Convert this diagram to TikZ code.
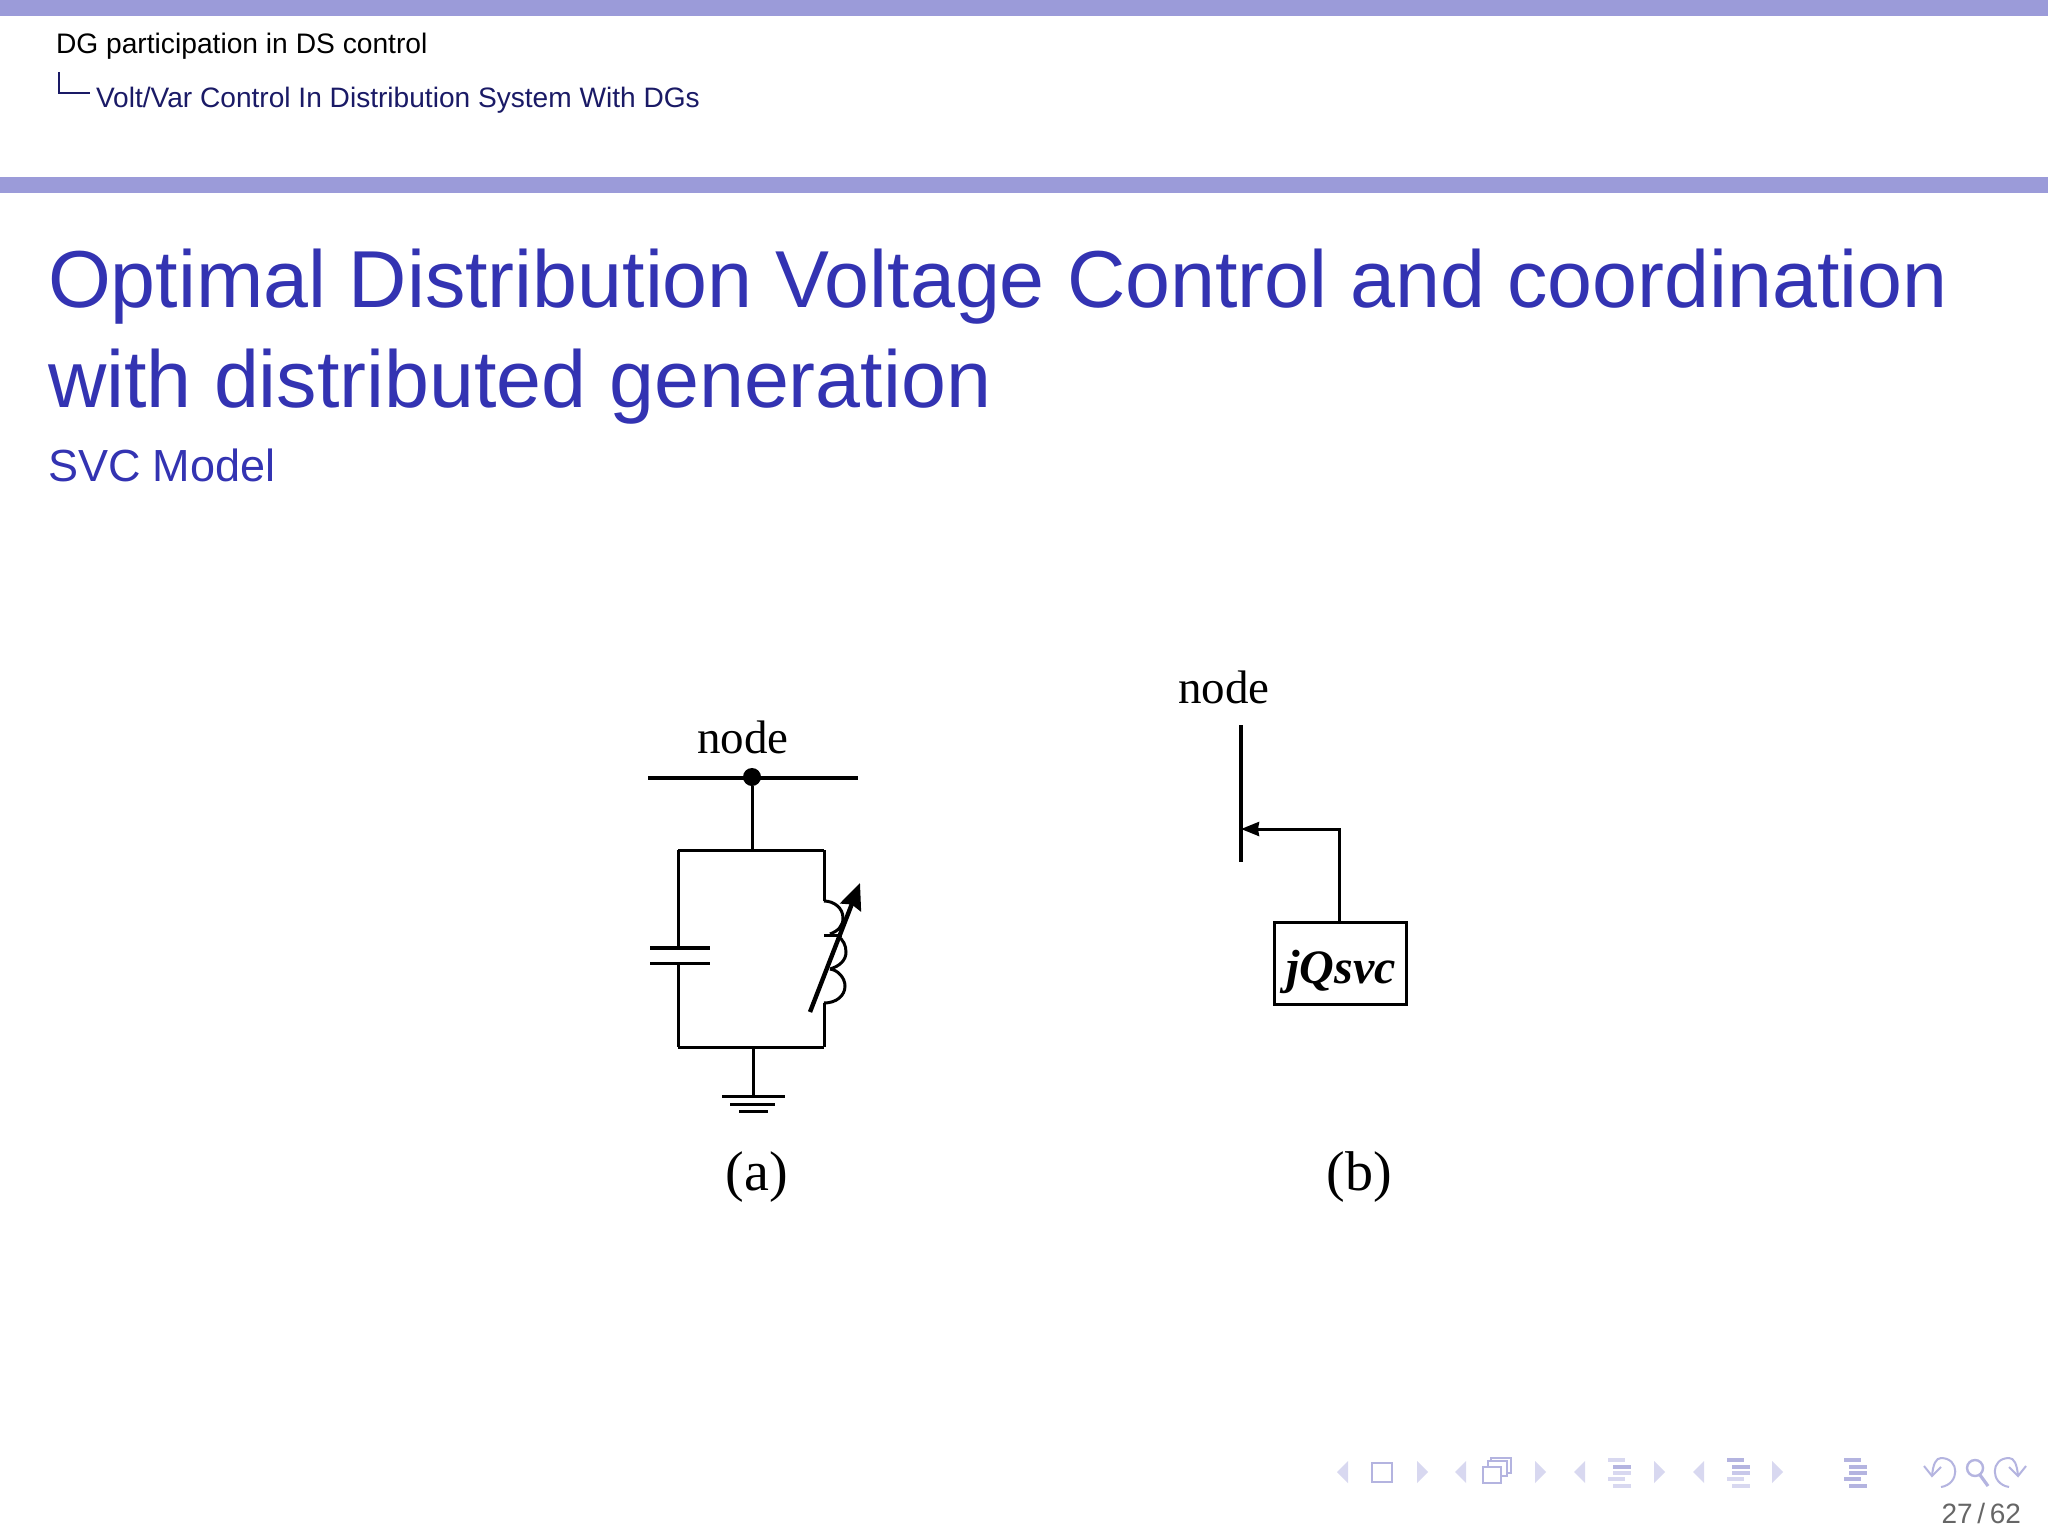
\documentclass[tikz,border=0pt]{standalone}
\usepackage{fontspec}
\setmainfont{Liberation Sans}
\newfontfamily\figserif{Liberation Serif}
\usetikzlibrary{arrows.meta}
\definecolor{barcol}{HTML}{9B9BD9}
\definecolor{titlecol}{HTML}{3333B2}
\definecolor{subcol}{HTML}{1A1A66}
\definecolor{navdark}{HTML}{B4B4E0}
\definecolor{navmid}{HTML}{C8C8EA}
\definecolor{navlight}{HTML}{D8D8F0}
\definecolor{pagecol}{HTML}{666666}
\newcommand{\navL}[1]{\fill[navlight] (#1-6,1472) -- (#1+5,1461) -- (#1+5,1483) -- cycle;}
\newcommand{\navR}[1]{\fill[navlight] (#1+6,1472) -- (#1-5,1461) -- (#1-5,1483) -- cycle;}
\newcommand{\navLines}[6]{%
 \fill[#2] (#1-8,1458) rectangle (#1+9,1462);
 \fill[#3] (#1-3,1465) rectangle (#1+15,1469);
 \fill[#4] (#1-3,1471) rectangle (#1+15,1475);
 \fill[#5] (#1-8,1477) rectangle (#1+9,1481);
 \fill[#6] (#1-3,1484) rectangle (#1+15,1488);}
\tikzset{
 every node/.style={inner sep=0pt,outer sep=0pt},
 wire/.style={line width=1.5pt,black},
 thick wire/.style={line width=1.8pt,black},
 fig text/.style={anchor=base,font=\figserif\fontsize{23.5pt}{26pt}\selectfont},
 cap text/.style={anchor=base,font=\figserif\fontsize{28pt}{30pt}\selectfont},
 pxgrid/.style={x=0.5pt,y=-0.5pt},
 navstroke/.style={navdark,line width=1pt},
}
\begin{document}
\begin{tikzpicture}[pxgrid]
\useasboundingbox (0,0) rectangle (2048,1536);
\fill[white] (0,0) rectangle (2048,1536);
% bars
\fill[barcol] (0,0) rectangle (2048,16);
\fill[barcol] (0,177) rectangle (2048,193);
% headline
\node[anchor=base west,font=\fontsize{14.1pt}{16pt}\selectfont] (sec) at (56,54) {DG participation in DS control};
\node[anchor=base west,text=subcol,font=\fontsize{14.05pt}{16pt}\selectfont] (subsec) at (96,107) {Volt/Var Control In Distribution System With DGs};
\draw[subcol,line width=0.8pt] (59,72) |- (90,93);
% title
\node[anchor=base west,text=titlecol,font=\fontsize{40.4pt}{50pt}\selectfont] (t1) at (48,307) {Optimal Distribution Voltage Control and coordination};
\node[anchor=base west,text=titlecol,font=\fontsize{40.4pt}{50pt}\selectfont] (t2) at (48,407) {with distributed generation};
\node[anchor=base west,text=titlecol,font=\fontsize{22.5pt}{28pt}\selectfont] (t3) at (48,481) {SVC Model};
% figure (a)
\node[fig text] (na) at (743,753) {node};
\coordinate (busL) at (648,778);
\coordinate (busR) at (858,778);
\draw[thick wire] (busL) -- (busR);
\node[circle,fill=black,minimum size=9pt] (dot) at (752,777) {};
\coordinate (top) at (752,850);
\coordinate (bot) at (753,1047);
\draw[wire] (dot) -- (top);
\draw[wire,line cap=square] (678,850) -- (824,850);
\draw[wire,line cap=square] (678,1047) -- (824,1047);
\draw[wire] (678,850) -- (678,948);
\draw[wire] (678,963) -- (678,1047);
\draw[thick wire] (650,948) -- (710,948);
\draw[wire] (650,963) -- (710,963);
\draw[wire] (824,850) -- (824,901);
\draw[wire] (824,901) .. controls (834,901) and (843,908) .. (843,918) .. controls (843,926) and (838,931) .. (830,934);
\draw[wire] (824,935) -- (842,935);
\draw[wire] (838,936) .. controls (843,940) and (846,945) .. (846,952) .. controls (846,960) and (840,966) .. (830,969);
\draw[wire] (830,969) .. controls (838,970) and (845,978) .. (845,986) .. controls (845,996) and (836,1003) .. (824,1003);
\draw[wire] (824,1003) -- (824,1047);
\draw[line width=2.2pt,black,-{Stealth[length=13pt,width=11pt,inset=1.5pt]}] (810,1012) -- (860,883);
% ground
\coordinate (g1) at (753,1096);
\draw[wire] (bot) -- (g1);
\draw[wire] (722,1096) -- (785,1096);
\draw[wire] (730,1104) -- (775,1104);
\draw[wire] (739,1111) -- (768,1111);
\node[cap text] (capa) at (757,1190) {(a)};
% figure (b)
\node[fig text] (nb) at (1224,703) {node};
\draw[line width=2pt,black] (1241,725) -- (1241,862);
\coordinate (tap) at (1241,829);
\node[draw=black,line width=1.5pt,minimum width=66pt,minimum height=41pt] (box) at (1340,963) {};
\node[anchor=base,font=\figserif\bfseries\itshape\fontsize{24pt}{27pt}\selectfont] (boxt) at (1341,983) {jQsvc};
\coordinate (boxtap) at (1339,922);
\draw[wire,-{Stealth[length=9pt,width=7pt,inset=0.5pt]}] (boxtap) |- (tap);
\node[cap text] (capb) at (1359,1190) {(b)};
% nav symbols
\navL{1343} \navR{1422}
\draw[navdark,line width=1.3pt] (1372,1463) rectangle (1392,1482);
\navL{1461} \navR{1540}
\draw[navdark,line width=0.8pt,fill=white] (1491,1458) rectangle (1511,1473);
\draw[navdark,line width=0.8pt,fill=white] (1488,1461) rectangle (1507,1476);
\draw[navdark,line width=1.3pt,fill=white] (1483,1467) rectangle (1501,1483);
\navL{1580} \navR{1659}
\navLines{1616}{navlight}{navdark}{navlight}{navlight}{navlight}
\navL{1699} \navR{1777}
\navLines{1735}{navdark}{navdark}{navmid}{navlight}{navlight}
\navLines{1852}{navdark}{navdark}{navdark}{navdark}{navdark}
\draw[navstroke] (1941,1487) .. controls (1960,1484) and (1960,1458) .. (1941,1458) .. controls (1936,1458) and (1933,1464) .. (1932,1476);
\draw[navstroke] (1924,1466) -- (1932,1476) -- (1941,1467);
\draw[navdark,line width=1.2pt] (1975,1468) circle (8);
\draw[navdark,line width=1.6pt] (1980,1475) -- (1988,1486);
\draw[navstroke] (2009,1487) .. controls (1990,1484) and (1990,1458) .. (2009,1458) .. controls (2014,1458) and (2017,1464) .. (2018,1476);
\draw[navstroke] (2026,1466) -- (2018,1476) -- (2009,1467);
\node[anchor=base east,text=pagecol,font=\fontsize{14pt}{16pt}\selectfont] (pg) at (2021,1523) {27\,/\,62};
\end{tikzpicture}
\end{document}
